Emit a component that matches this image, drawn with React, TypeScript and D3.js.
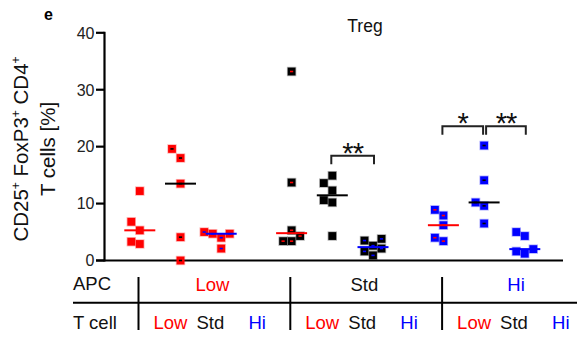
import React from 'react';
import * as d3 from 'd3';

// ---- data ----
const apcLevels = ['Low', 'Std', 'Hi'];
const tcellLevels = ['Low', 'Std', 'Hi'];
const yTicks = [0, 10, 20, 30, 40];

const lowApcLowT = [12.2, 6.8, 5.3, 3.3, 2.9];
const lowApcStdT = [19.6, 18.0, 13.5, 4.1, 0.0];
const lowApcHiT = [5.0, 4.7, 4.7, 4.0, 2.1];
const stdApcLowT = [33.2, 13.7, 5.3, 4.3, 3.4, 3.4];
const stdApcStdT = [14.9, 13.6, 12.3, 10.6, 10.2, 4.3];
const stdApcHiT = [3.8, 3.5, 2.6, 2.1, 1.6, 0.9];
const hiApcLowT = [8.9, 7.9, 6.2, 4.0, 3.4];
const hiApcStdT = [20.2, 14.1, 10.2, 9.6, 6.5];
const hiApcHiT = [5.0, 4.3, 2.0, 1.6, 1.2];

const significance = [
  { apc: 'Std', from: 'Std', to: 'Hi', label: '**', level: 18.4 },
  { apc: 'Hi', from: 'Low', to: 'Std', label: '*', level: 23.6 },
  { apc: 'Hi', from: 'Std', to: 'Hi', label: '**', level: 23.6 },
];

const groups = [
  { apc: 'Low', tcell: 'Low', values: lowApcLowT },
  { apc: 'Low', tcell: 'Std', values: lowApcStdT },
  { apc: 'Low', tcell: 'Hi', values: lowApcHiT },
  { apc: 'Std', tcell: 'Low', values: stdApcLowT },
  { apc: 'Std', tcell: 'Std', values: stdApcStdT },
  { apc: 'Std', tcell: 'Hi', values: stdApcHiT },
  { apc: 'Hi', tcell: 'Low', values: hiApcLowT },
  { apc: 'Hi', tcell: 'Std', values: hiApcStdT },
  { apc: 'Hi', tcell: 'Hi', values: hiApcHiT },
];

const colors: Record<string, string> = { Low: '#ff0000', Std: '#000000', Hi: '#0000ff' };
const FONT = '"Liberation Sans", Arial, Helvetica, sans-serif';

const W = 577;
const H = 338;

const y = d3.scaleLinear().domain([0, 40]).range([260.5, 32.8]);
const xGroup = d3.scaleBand().domain(apcLevels).range([104.6, 560]).padding(0);
const xSub = d3.scalePoint().domain(tcellLevels).range([-40.7, 40.7]);
const colX = (apc: string, t: string) => (xGroup(apc) as number) + xGroup.bandwidth() / 2 + (xSub(t) as number);

function swarm(values: number[], d: number, T: number) {
  const idx = values.map((_, i) => i).sort((a, b) => values[a] - values[b]);
  const placed: { x: number; y: number }[] = [];
  const offs: number[] = new Array(values.length).fill(0);
  const cands = [0, -1, 1, -2, 2, -3, 3];
  for (const i of idx) {
    const py = y(values[i]);
    for (const c of cands) {
      const ox = c * d;
      if (!placed.some((p) => Math.abs(p.x - ox) < d - 0.1 && Math.abs(p.y - py) < T)) {
        offs[i] = ox;
        placed.push({ x: ox, y: py });
        break;
      }
    }
  }
  return offs;
}

export default function App() {
  const axisX = 104.5;
  const baseY = y(0);
  const ms = 7.8;
  const starFs = 29;

  return (
    <svg width={W} height={H} style={{ position: 'absolute', left: 0, top: 0, background: '#fff' }} fontFamily={FONT}>
      <rect width={W} height={H} fill="#fff" />
      {/* panel letter */}
      <text x={44} y={20} fontSize={16} fontWeight="bold">e</text>
      {/* title */}
      <text x={365} y={32} fontSize={17.5} textAnchor="middle" fill="#111">Treg</text>

      {/* y axis */}
      <line x1={axisX} x2={axisX} y1={y(40) - 1} y2={baseY + 1} stroke="#000" strokeWidth={2.2} />
      {yTicks.map((t) => (
        <g key={t}>
          <line x1={96} x2={axisX} y1={y(t)} y2={y(t)} stroke="#000" strokeWidth={2.2} />
          <text x={94.5} y={y(t) + 5.8} fontSize={16} textAnchor="end" fill="#222">{t}</text>
        </g>
      ))}
      {/* x axis */}
      <line x1={96} x2={563} y1={baseY} y2={baseY} stroke="#000" strokeWidth={2.2} />

      {/* y title */}
      <g transform={`translate(28,149) rotate(-90)`}>
        <text fontSize={20.5} textAnchor="middle" fill="#111">
          CD25<tspan dy={-8} fontSize={12}>+</tspan>
          <tspan dy={8}> FoxP3</tspan><tspan dy={-8} fontSize={12}>+</tspan>
          <tspan dy={8}> CD4</tspan><tspan dy={-8} fontSize={12}>+</tspan>
        </text>
      </g>
      <g transform={`translate(55,149) rotate(-90)`}>
        <text fontSize={20.5} textAnchor="middle" fill="#111">T cells [%]</text>
      </g>

      {/* points */}
      {groups.map((g, gi) => {
        const cx = colX(g.apc, g.tcell);
        const offs = swarm(g.values, 8.5, 9.5);
        const med = d3.median(g.values) as number;
        const apcC = colors[g.apc];
        const tC = colors[g.tcell];
        return (
          <g key={gi}>
            {g.values.map((v, i) => (
              <g key={i}>
                <rect x={cx + offs[i] - ms / 2} y={y(v) - ms / 2} width={ms} height={ms} fill={apcC}
                  stroke={apcC} strokeOpacity={0.3} strokeWidth={1.6} />
                {g.apc !== g.tcell && (
                  <rect x={cx + offs[i] - 1.6} y={y(v) - 0.8} width={3.2} height={1.6} fill={tC} />
                )}
              </g>
            ))}
            <line x1={cx - 15.5} x2={cx + 15.5} y1={y(med)} y2={y(med)} stroke={tC} strokeWidth={2} />
          </g>
        );
      })}

      {/* significance brackets */}
      {significance.map((s, i) => {
        const x1 = colX(s.apc, s.from) - 1;
        const x2 = colX(s.apc, s.to) + 1;
        const sharedLeft = significance.some((o, j) => j !== i && o.apc === s.apc && o.to === s.from);
        const sharedRight = significance.some((o, j) => j !== i && o.apc === s.apc && o.from === s.to);
        const a = sharedLeft ? x1 + 3 : x1;
        const b = sharedRight ? x2 - 2 : x2;
        const by = y(s.level);
        return (
          <g key={i}>
            <path d={`M${a},${by + 8.5}V${by}H${b}V${by + 8.5}`} fill="none" stroke="#222" strokeWidth={2} />
            <text x={(a + b) / 2} y={by - 10 + 0.58 * starFs} fontSize={starFs} textAnchor="middle" fill="#111"
              letterSpacing={-1}>{s.label}</text>
          </g>
        );
      })}

      {/* table */}
      <line x1={73} x2={577} y1={302.7} y2={302.7} stroke="#000" strokeWidth={2} />
      <text x={73} y={290} fontSize={18.5} fill="#111">APC</text>
      <text x={73} y={329} fontSize={18.5} fill="#111">T cell</text>
      {apcLevels.map((a) => {
        const c = (xGroup(a) as number) + xGroup.bandwidth() / 2;
        const sep = c - 42;
        return (
          <g key={a}>
            <line x1={sep} x2={sep} y1={277} y2={330} stroke="#000" strokeWidth={2} />
            <text x={c + 32} y={290.5} fontSize={18.5} textAnchor="middle" fill={colors[a] === '#000000' ? '#111' : colors[a]}>{a}</text>
            {tcellLevels.map((t, ti) => (
              <text key={t} x={sep + [15, 58, 110][ti]} y={329} fontSize={18.5} fill={colors[t] === '#000000' ? '#111' : colors[t]}>{t}</text>
            ))}
          </g>
        );
      })}
    </svg>
  );
}
